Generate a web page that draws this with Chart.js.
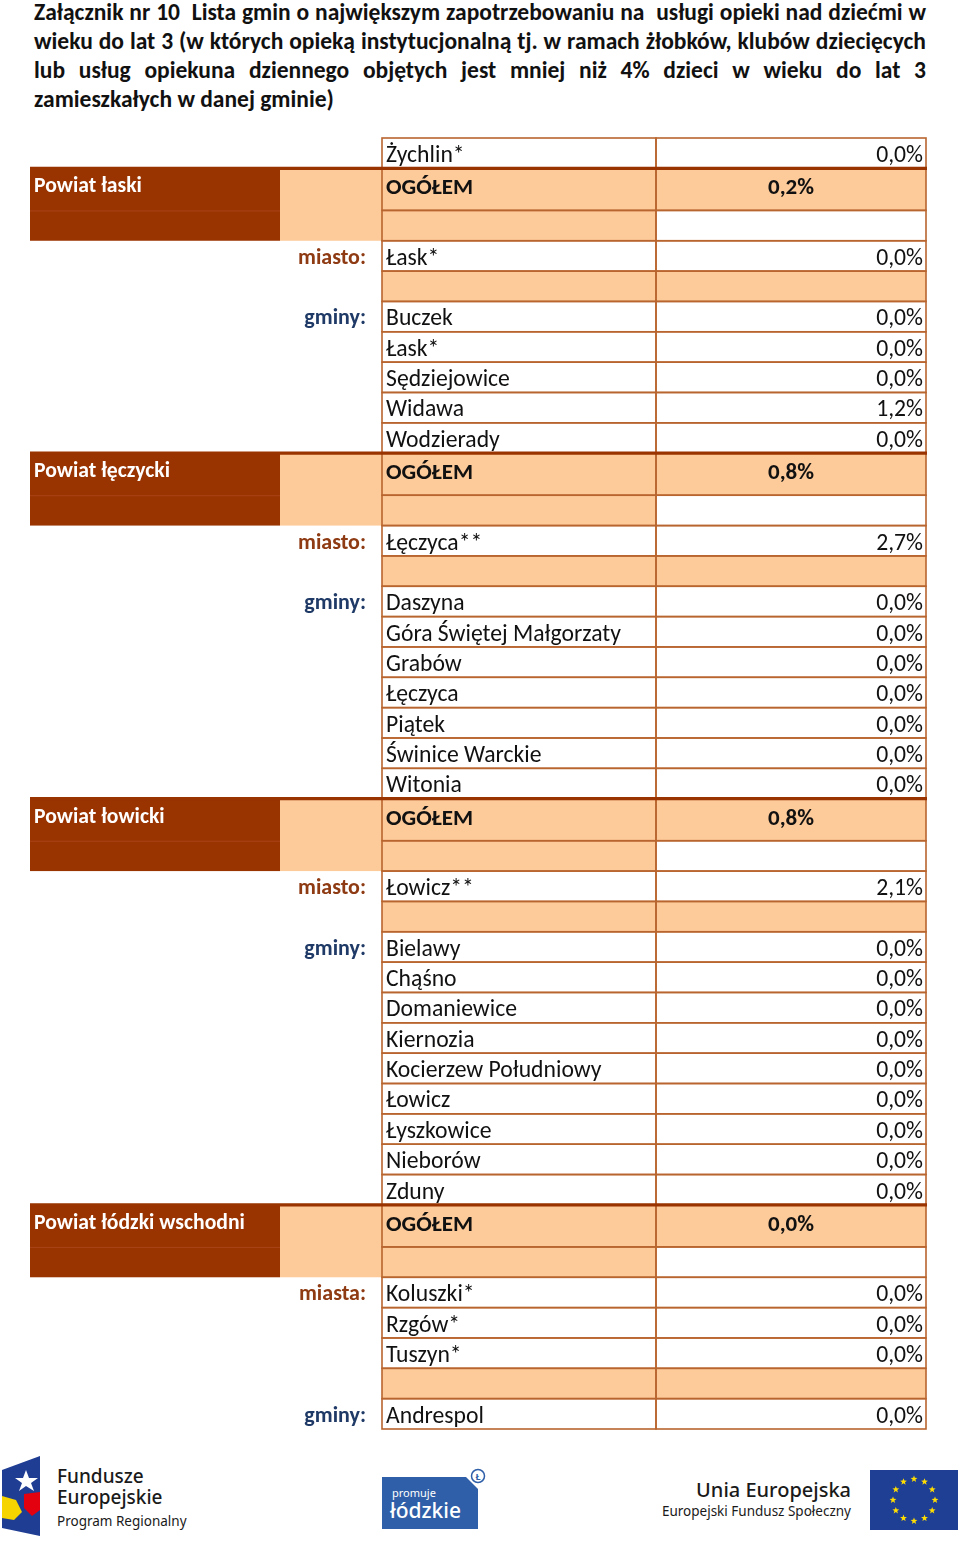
<!DOCTYPE html>
<html lang="pl">
<head>
<meta charset="utf-8">
<title>Załącznik nr 10</title>
<script src="https://cdn.jsdelivr.net/npm/chart.js@4.4.0/dist/chart.umd.min.js"></script>
<style>
  html, body { margin: 0; padding: 0; background: #fff; }
  body { width: 960px; height: 1541px; position: relative; overflow: hidden; }
  #title { position: absolute; left: 34px; top: -2px; width: 892px;
           font-family: Carlito, Lato, sans-serif; font-weight: 700; color: #111;
           font-size: 21px; line-height: 29px; }
  #title div { white-space: nowrap; text-align: justify; text-align-last: justify; }
  #title div.last { text-align-last: left; }
  #chart { position: absolute; left: 0; top: 134px; }
  .logo { position: absolute; font-family: "Noto Sans", sans-serif; color: #1a1a1a; }
</style>
</head>
<body>
<div id="title">
  <div>Załącznik nr 10&nbsp; Lista gmin o największym zapotrzebowaniu na&nbsp; usługi opieki nad dziećmi w</div>
  <div>wieku do lat 3 (w których opieką instytucjonalną tj. w ramach żłobków, klubów dziecięcych</div>
  <div>lub usług opiekuna dziennego objętych jest mniej niż 4% dzieci w wieku do lat 3</div>
  <div class="last">zamieszkałych w danej gminie)</div>
</div>

<canvas id="chart" width="960" height="1300"></canvas>

<!-- logos -->
<svg class="logo" style="left:2px;top:1456px" width="40" height="82" viewBox="0 0 40 82">
  <polygon points="0,14 38,0 38,80 0,72" fill="#1f3d93"/>
  <polygon points="0,40 14,44 20,56 12,64 0,62" fill="#f5d400"/>
  <polygon points="22,38 38,36 38,54 30,60 22,52" fill="#e3000f"/>
  <polygon points="24,14 27,22 36,22 29,27 32,35 24,30 17,35 20,27 13,22 21,22" fill="#fff"/>
</svg>
<div class="logo" style="left:57px;top:1466px;font-size:19px;font-weight:500;line-height:21px">Fundusze<br>Europejskie</div>
<div class="logo" style="left:57px;top:1512px;font-size:13.5px">Program Regionalny</div>

<svg class="logo" style="left:380px;top:1466px" width="108" height="66" viewBox="0 0 108 66">
  <polygon points="2,11 86,11 98,23 98,63 2,63" fill="#2f5fa8"/>
  <circle cx="98" cy="10" r="6.5" fill="#fff" stroke="#2f5fa8" stroke-width="1.5"/>
  <text x="98" y="13.5" font-size="9" font-family="Noto Sans" font-weight="700" fill="#2f5fa8" text-anchor="middle">Ł</text>
  <text x="12" y="31" font-size="11" font-family="Noto Sans" fill="#fff">promuje</text>
  <text x="10" y="52" font-size="21" font-family="Noto Sans" font-weight="500" fill="#fff">łódzkie</text>
</svg>

<div class="logo" style="right:109px;top:1476px;font-size:20px;font-weight:500;text-align:right">Unia Europejska</div>
<div class="logo" style="right:109px;top:1502px;font-size:13.5px;text-align:right">Europejski Fundusz Społeczny</div>
<svg class="logo" style="left:870px;top:1470px" width="88" height="60" viewBox="0 0 88 60">
  <rect x="0" y="0" width="88" height="60" fill="#1f3f95"/>
  <g id="stars" fill="#ffdd00"></g>
</svg>

<script>
"use strict";

// ---- data ----
var leadNames = ["Żychlin*"];
var leadValues = [0.0];

var powiaty = ["Powiat łaski", "Powiat łęczycki", "Powiat łowicki", "Powiat łódzki wschodni"];
var totals = [0.2, 0.8, 0.8, 0.0];

var cityLabels = ["miasto:", "miasto:", "miasto:", "miasta:"];
var cities = [
  ["Łask*"],
  ["Łęczyca**"],
  ["Łowicz**"],
  ["Koluszki*", "Rzgów*", "Tuszyn*"]
];
var cityValues = [
  [0.0],
  [2.7],
  [2.1],
  [0.0, 0.0, 0.0]
];

var gminy = [
  ["Buczek", "Łask*", "Sędziejowice", "Widawa", "Wodzierady"],
  ["Daszyna", "Góra Świętej Małgorzaty", "Grabów", "Łęczyca", "Piątek", "Świnice Warckie", "Witonia"],
  ["Bielawy", "Chąśno", "Domaniewice", "Kiernozia", "Kocierzew Południowy", "Łowicz", "Łyszkowice", "Nieborów", "Zduny"],
  ["Andrespol"]
];
var gminyValues = [
  [0.0, 0.0, 0.0, 1.2, 0.0],
  [0.0, 0.0, 0.0, 0.0, 0.0, 0.0, 0.0],
  [0.0, 0.0, 0.0, 0.0, 0.0, 0.0, 0.0, 0.0, 0.0],
  [0.0]
];

// ---- EU flag stars ----
(function () {
  var g = document.getElementById("stars");
  for (var i = 0; i < 12; i++) {
    var a = i * Math.PI / 6;
    var cx = 44 + 21 * Math.sin(a), cy = 30 - 21 * Math.cos(a);
    var pts = [];
    for (var k = 0; k < 10; k++) {
      var r = k % 2 ? 1.5 : 3.6, b = k * Math.PI / 5;
      pts.push((cx + r * Math.sin(b)).toFixed(2) + "," + (cy - r * Math.cos(b)).toFixed(2));
    }
    var p = document.createElementNS("http://www.w3.org/2000/svg", "polygon");
    p.setAttribute("points", pts.join(" "));
    g.appendChild(p);
  }
})();

// ---- title font fit ----
(function () {
  var lines = document.querySelectorAll("#title div");
  var probe = document.createElement("span");
  probe.style.whiteSpace = "nowrap";
  probe.style.visibility = "hidden";
  probe.style.position = "absolute";
  probe.innerHTML = lines[0].innerHTML;
  document.getElementById("title").appendChild(probe);
  var w = probe.getBoundingClientRect().width;
  var size = 21 * 884 / w;
  document.getElementById("title").style.fontSize = size.toFixed(2) + "px";
  probe.remove();
})();

// ---- build rows ----
var TOTAL_H = 42 / 30.3;
var rows = [];
leadNames.forEach(function (n, i) { rows.push({ kind: "plain", name: n, value: leadValues[i] }); });
powiaty.forEach(function (p, i) {
  rows.push({ kind: "total", name: "OGÓŁEM", value: totals[i], powiat: p });
  rows.push({ kind: "blank" });
  cities[i].forEach(function (n, j) {
    rows.push({ kind: "plain", name: n, value: cityValues[i][j], label: j === 0 ? cityLabels[i] : null, labelColor: "#8e3a12" });
  });
  rows.push({ kind: "gap" });
  gminy[i].forEach(function (n, j) {
    rows.push({ kind: "plain", name: n, value: gminyValues[i][j], label: j === 0 ? "gminy:" : null, labelColor: "#1f3a66" });
  });
});
var acc = 0;
rows.forEach(function (r) {
  r.u0 = acc;
  acc += r.kind === "total" ? TOTAL_H : 1;
  r.u1 = acc;
});
var totalUnits = acc;

function fmt(v) { return v.toFixed(1).replace(".", ",") + "%"; }

// column edges (page x)
var BAND = [30, 280], PAD = [280, 382], NAME = [382, 656], VAL = [656, 926];
var PEACH = "#fdca99", DARK = "#993300", GRID = "#b9652f";
var FAMILY = "Carlito, Lato, sans-serif";

function fitSize(ctx, weight, sample, target) {
  ctx.font = weight + " 20px " + FAMILY;
  return 20 * target / ctx.measureText(sample).width;
}

var tablePlugin = {
  id: "tablePlugin",
  afterDraw: function (chart) {
    var ctx = chart.ctx, xs = chart.scales.x, ys = chart.scales.y;
    var X = function (v) { return xs.getPixelForValue(v); };
    var Y = function (v) { return ys.getPixelForValue(v); };
    var regSize = fitSize(ctx, "400", "Góra Świętej Małgorzaty", 235);
    var boldSize = fitSize(ctx, "700", "Powiat łódzki wschodni", 211);
    var totSize = fitSize(ctx, "700", "OGÓŁEM", 87);
    var labSize = fitSize(ctx, "700", "miasto:", 68);

    ctx.save();
    // fills
    rows.forEach(function (r, i) {
      var t = Y(r.u0), b = Y(r.u1);
      var nameFill = "#fff", valFill = "#fff";
      if (r.kind === "total") {
        var b2 = Y(rows[i + 1].u1);
        ctx.fillStyle = DARK;
        ctx.fillRect(X(BAND[0]), t, X(BAND[1]) - X(BAND[0]), b2 - t);
        ctx.fillStyle = PEACH;
        ctx.fillRect(X(PAD[0]), t, X(PAD[1]) - X(PAD[0]), b2 - t);
        nameFill = PEACH; valFill = PEACH;
      } else if (r.kind === "blank") {
        nameFill = PEACH;
      } else if (r.kind === "gap") {
        nameFill = PEACH; valFill = PEACH;
      }
      ctx.fillStyle = nameFill;
      ctx.fillRect(X(NAME[0]), t, X(NAME[1]) - X(NAME[0]), b - t);
      ctx.fillStyle = valFill;
      ctx.fillRect(X(VAL[0]), t, X(VAL[1]) - X(VAL[0]), b - t);
    });

    // grid
    ctx.strokeStyle = GRID;
    ctx.lineWidth = 1.6;
    rows.forEach(function (r) {
      var t = Y(r.u0), b = Y(r.u1);
      ctx.strokeRect(X(NAME[0]), t, X(NAME[1]) - X(NAME[0]), b - t);
      ctx.strokeRect(X(VAL[0]), t, X(VAL[1]) - X(VAL[0]), b - t);
    });

    // thick rule above each total row, faint line inside the band
    rows.forEach(function (r, i) {
      if (r.kind !== "total") return;
      var t = Y(r.u0);
      ctx.strokeStyle = DARK;
      ctx.lineWidth = 3.2;
      ctx.beginPath();
      ctx.moveTo(X(BAND[0]), t);
      ctx.lineTo(X(VAL[1]) + 1, t);
      ctx.stroke();
      ctx.strokeStyle = "#a94519";
      ctx.lineWidth = 1;
      ctx.beginPath();
      ctx.moveTo(X(BAND[0]), Y(r.u1) + 0.5);
      ctx.lineTo(X(BAND[1]), Y(r.u1) + 0.5);
      ctx.stroke();
    });

    // texts
    ctx.textBaseline = "alphabetic";
    rows.forEach(function (r) {
      var t = Y(r.u0);
      if (r.kind === "plain") {
        ctx.font = "400 " + regSize.toFixed(2) + "px " + FAMILY;
        ctx.fillStyle = "#111";
        ctx.textAlign = "left";
        ctx.fillText(r.name, X(NAME[0]) + 4, t + 24);
        ctx.textAlign = "right";
        ctx.fillText(fmt(r.value), X(VAL[1]) - 3, t + 24);
        if (r.label) {
          ctx.font = "700 " + labSize.toFixed(2) + "px " + FAMILY;
          ctx.fillStyle = r.labelColor;
          ctx.fillText(r.label, X(PAD[1]) - 16, t + 23);
        }
      } else if (r.kind === "total") {
        ctx.font = "700 " + totSize.toFixed(2) + "px " + FAMILY;
        ctx.fillStyle = "#111";
        ctx.textAlign = "left";
        ctx.fillText(r.name, X(NAME[0]) + 4, t + 26);
        ctx.textAlign = "center";
        ctx.fillText(fmt(r.value), (X(VAL[0]) + X(VAL[1])) / 2, t + 26);
        ctx.font = "700 " + boldSize.toFixed(2) + "px " + FAMILY;
        ctx.fillStyle = "#fff";
        ctx.textAlign = "left";
        ctx.fillText(r.powiat, X(BAND[0]) + 4, t + 24);
      }
    });
    ctx.restore();
  }
};

new Chart(document.getElementById("chart"), {
  type: "bar",
  data: { labels: [], datasets: [] },
  options: {
    responsive: false,
    animation: false,
    layout: { padding: { top: 4, bottom: 5, left: 0, right: 0 } },
    plugins: { legend: { display: false }, tooltip: { enabled: false } },
    scales: {
      x: { type: "linear", min: 0, max: 960, offset: false, display: false },
      y: { type: "linear", min: 0, max: totalUnits, reverse: true, offset: false, display: false }
    }
  },
  plugins: [tablePlugin]
});
</script>
</body>
</html>
